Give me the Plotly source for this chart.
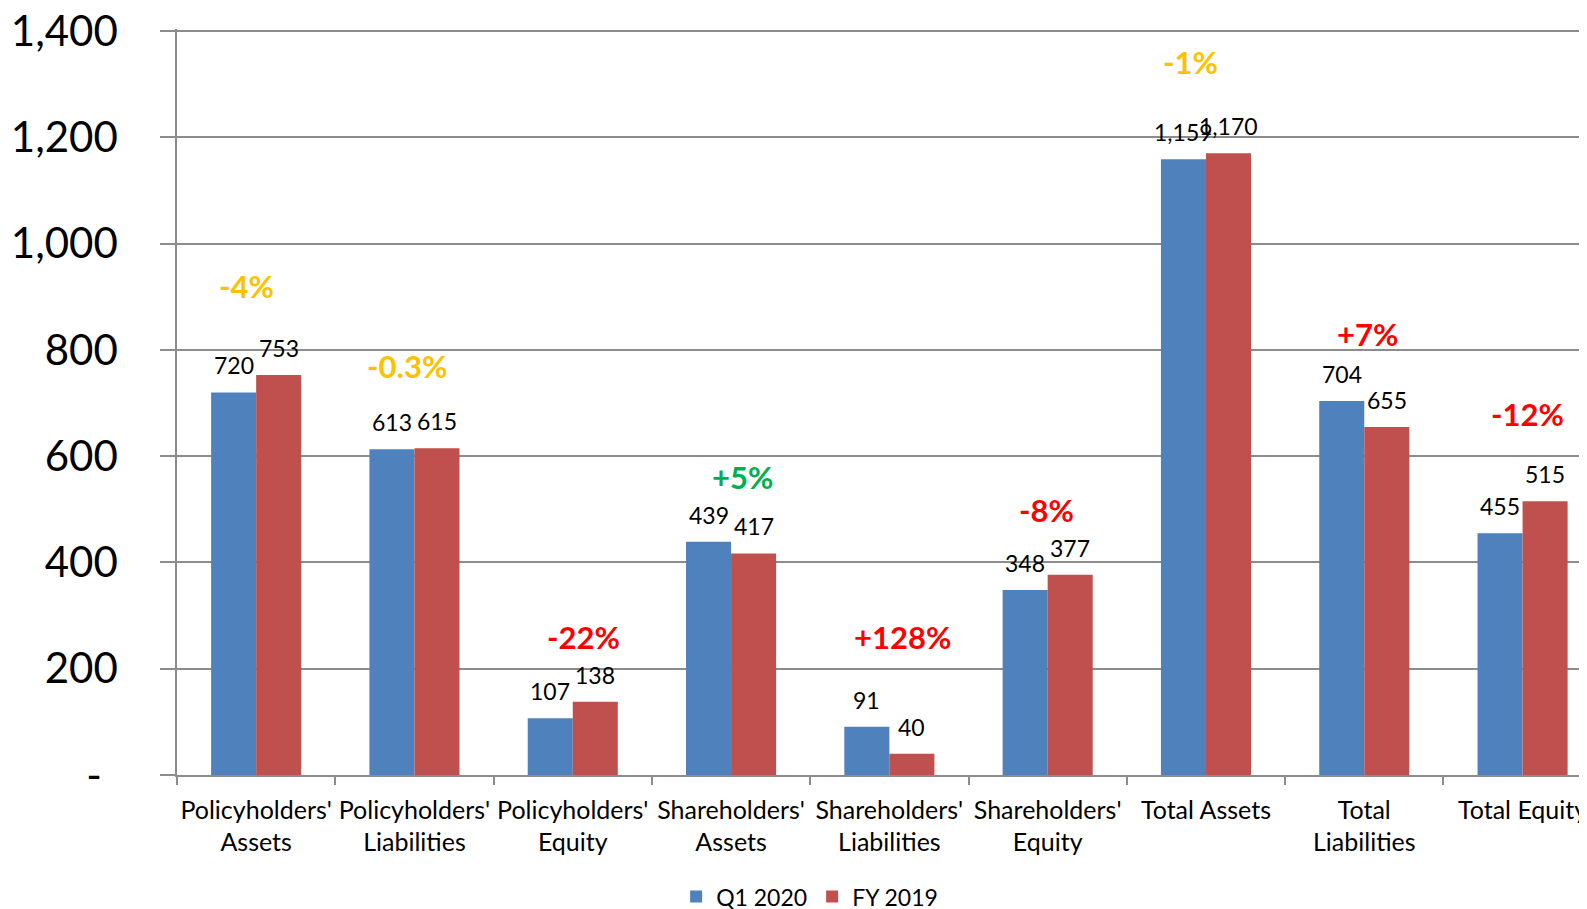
import plotly.graph_objects as go

categories = ["Policyholders'<br>Assets", "Policyholders'<br>Liabilities", "Policyholders'<br>Equity",
              "Shareholders'<br>Assets", "Shareholders'<br>Liabilities", "Shareholders'<br>Equity",
              "Total Assets", "Total<br>Liabilities", "Total Equity"]
q1_2020 = [720, 613, 107, 439, 91, 348, 1159, 704, 455]
fy_2019 = [753, 615, 138, 417, 40, 377, 1170, 655, 515]

pct_labels = ["-4%", "-0.3%", "-22%", "+5%", "+128%", "-8%", "-1%", "+7%", "-12%"]
pct_colors = ["#FFC000", "#FFC000", "#FF0000", "#00B050", "#FF0000", "#FF0000", "#FFC000", "#FF0000", "#FF0000"]
pct_x = [-0.06, 0.95, 2.065, 3.075, 4.085, 4.99, 5.905, 7.02, 8.03]
pct_y = [920, 770, 259, 560, 259, 499, 1341, 830, 680]

y_ticks = [0, 200, 400, 600, 800, 1000, 1200, 1400]
y_ticktext = ["-\u00a0\u2009", "200", "400", "600", "800", "1,000", "1,200", "1,400"]

BLUE = "#4F81BD"
RED = "#C0504D"
GREY = "#8C8C8C"
FONT = "Lato"

fig = go.Figure()
fig.add_trace(go.Bar(x=categories, y=q1_2020, name="Q1 2020", marker=dict(color=BLUE, line=dict(width=0))))
fig.add_trace(go.Bar(x=categories, y=fy_2019, name="FY 2019", marker=dict(color=RED, line=dict(width=0))))

ann = []
for i, c in enumerate(categories):
    for vals, sh in ((q1_2020, -22.5), (fy_2019, 22.5)):
        v = vals[i]
        ann.append(dict(x=c, y=v, xref="x", yref="y", text=f"{v:,}", showarrow=False,
                        xshift=sh, yshift=27, yanchor="middle",
                        font=dict(family=FONT, size=23, color="#000000")))
for x, y, t, col in zip(pct_x, pct_y, pct_labels, pct_colors):
    ann.append(dict(x=x, y=y, xref="x", yref="y", text=f"<b>{t}</b>", showarrow=False,
                    yanchor="middle", font=dict(family=FONT, size=31, color=col)))

fig.update_layout(
    width=1579, height=901,
    margin=dict(l=169, r=0, t=21.4, b=134, autoexpand=False),
    plot_bgcolor="white", paper_bgcolor="white",
    barmode="group", bargap=0.431, bargroupgap=0,
    font=dict(family=FONT, color="#000000"),
    showlegend=True,
    legend=dict(orientation="h", x=0.354, xanchor="left", y=-0.163, yanchor="middle",
                font=dict(family=FONT, size=23), itemwidth=30, traceorder="normal"),
    annotations=ann,
)
fig.update_xaxes(
    type="category", range=[-0.5, 8.407], automargin=False, tickangle=0,
    showline=True, linecolor=GREY, linewidth=1.5,
    ticks="outside", tickson="boundaries", ticklen=8, tickcolor=GREY, tickwidth=1.5,
    showgrid=False, ticklabeloverflow="allow", ticklabelstandoff=12,
    tickfont=dict(family=FONT, size=25, color="#000000"),
)
fig.update_yaxes(
    range=[0, 1404], tickvals=y_ticks, ticktext=y_ticktext, automargin=False,
    showline=True, linecolor=GREY, linewidth=1.5,
    showgrid=True, gridcolor=GREY, gridwidth=1.5,
    ticks="outside", ticklen=15, tickcolor=GREY, tickwidth=1.5,
    ticklabelstandoff=34, ticklabeloverflow="allow",
    tickfont=dict(family=FONT, size=42, color="#000000"),
    zeroline=False,
)

fig.write_html("out.html")
